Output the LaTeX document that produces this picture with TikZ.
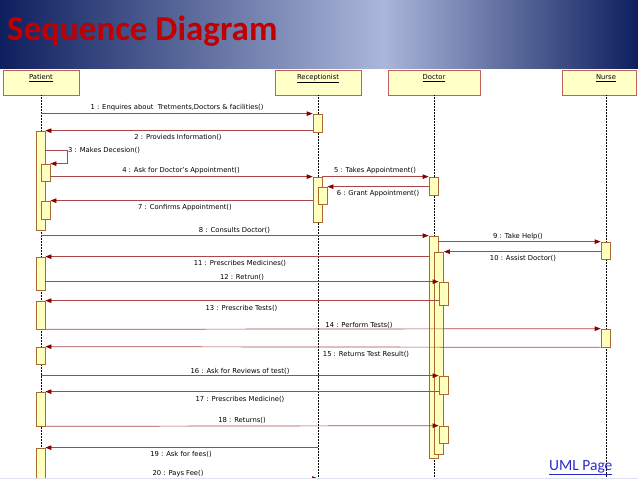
\documentclass[tikz,border=0pt]{standalone}
\usepackage{fontspec}
\setmainfont{DejaVu Sans}
\newfontfamily\titlefont{Carlito}
\usetikzlibrary{arrows.meta,calc,positioning}

\definecolor{navy}{HTML}{0E1F5E}
\definecolor{paleblue}{HTML}{AAB6DA}
\definecolor{titlered}{HTML}{C00000}
\definecolor{headfill}{HTML}{FFFFC8}
\definecolor{headline}{HTML}{C0605A}
\definecolor{actfill}{HTML}{FFFFBE}
\definecolor{actline}{HTML}{A86A30}
\definecolor{msgline}{HTML}{A84848}
\definecolor{tipred}{HTML}{8B0000}
\definecolor{bandgray}{HTML}{DCE2EE}
\definecolor{linkblue}{HTML}{2A2ACC}

\pgfdeclarehorizontalshading{bandshade}{100bp}{color(0bp)=(navy); color(25bp)=(navy);
  color(55bp)=(paleblue); color(75bp)=(navy); color(100bp)=(navy)}

\tikzset{
  headbox/.style={draw=headline, fill=headfill, line width=0.8pt, minimum height=25pt, inner sep=0pt},
  headlbl/.style={font=\fontsize{6.8}{8}\selectfont, inner sep=0pt, anchor=base},
  lifeline/.style={black, densely dotted, line width=0.5pt},
  actbox/.style={draw=actline, fill=actfill, line width=0.7pt, minimum width=9pt, inner sep=0pt},
  msg/.style={msgline, line width=0.7pt, -{Triangle[length=6pt,width=4.5pt,color=tipred]}},
  msglbl/.style={font=\fontsize{6.8}{8}\selectfont, inner sep=0pt}
}

\begin{document}
\begin{tikzpicture}[x=1pt,y=-1pt]
      \useasboundingbox (0,0) rectangle (638,479);
      \clip (0,0) rectangle (638,479);

      % title band
      \shade[shading=bandshade] (0,0) rectangle (638,68);
      \node[anchor=base west, inner sep=0pt, text=titlered] (title) at (7,40)
        {\titlefont\bfseries\fontsize{35}{40}\selectfont Sequence Diagram};

      % lifeline heads
      \node[headbox, minimum width=76pt] (patient) at (41,82.5) {};
      \node[headbox, minimum width=86pt] (receptionist) at (318,82.5) {};
      \node[headbox, minimum width=92pt] (doctor) at (434,82.5) {};
      \node[headbox, minimum width=74pt] (nurse) at (599.5,82.5) {};
      \node[headlbl] (patientlbl) at (41,79.5) {\underline{Patient}};
      \node[headlbl] (receptionistlbl) at (318,79.5) {\underline{Receptionist}};
      \node[headlbl] (doctorlbl) at (434,79.5) {\underline{Doctor}};
      \node[headlbl] (nurselbl) at (606,79.5) {\underline{Nurse}};

      \coordinate (bottom) at (0,479);
      \draw[lifeline] (patient.south) -- (patient.south |- bottom);
      \draw[lifeline] (receptionist.south) -- (receptionist.south |- bottom);
      \draw[lifeline] (doctor.south) -- (doctor.south |- bottom);
      \draw[lifeline] (nurselbl |- nurse.south) -- (nurselbl |- bottom);

      % activations
      \node[actbox, minimum height=99pt] (pa1) at (40.5,180.5) {};
      \node[actbox, minimum height=17pt] (pa2) at (45.5,172.5) {};
      \node[actbox, minimum height=18pt] (pa3) at (45.5,210) {};
      \node[actbox, minimum height=33pt] (pa4) at (40.5,273.5) {};
      \node[actbox, minimum height=28pt] (pa5) at (40.5,315) {};
      \node[actbox, minimum height=17pt] (pa6) at (40.5,355.5) {};
      \node[actbox, minimum height=34pt] (pa7) at (40.5,409) {};
      \node[actbox, minimum height=52pt] (pa8) at (40.5,474) {};

      \node[actbox, minimum height=18pt] (ra1) at (317.5,123) {};
      \node[actbox, minimum height=45pt] (ra2) at (317.5,199.5) {};
      \node[actbox, minimum height=17pt] (ra3) at (322.5,195.5) {};

      \node[actbox, minimum height=18pt] (da1) at (433.5,186) {};
      \node[actbox, minimum height=222pt] (da2) at (433.5,347) {};
      \node[actbox, minimum height=202pt] (da3) at (439,353) {};
      \node[actbox, minimum height=23pt] (da4) at (443.5,293.5) {};
      \node[actbox, minimum height=18pt] (da5) at (443.5,385) {};
      \node[actbox, minimum height=17pt] (da6) at (443.5,434.5) {};

      \node[actbox, minimum height=17pt] (na1) at (605.5,250.5) {};
      \node[actbox, minimum height=18pt] (na2) at (605.5,338) {};

      % messages
      \coordinate (m3turn) at (67,150);
      \draw[msg] (patient.south |- ra1.north) -- (ra1.north west);
      \draw[msg] (ra1.west |- pa1.north) -- (pa1.north east);
      \draw[msg] (pa1.east |- m3turn) -- (m3turn) |- (pa2.north east);
      \draw[msg] (pa2.east |- ra2.north) -- (ra2.north west);
      \draw[msg] (ra2.north east) -- (da1.north west);
      \draw[msg] (da1.west |- ra3.north) -- (ra3.north east);
      \draw[msg] (ra2.west |- pa3.north) -- (pa3.north east);
      \draw[msg] (patient.south |- da2.north) -- (da2.north west);
      \draw[msg] (da2.east |- na1.north) -- (na1.north west);
      \draw[msg] (na1.west |- da3.north) -- (da3.north east);
      \draw[msg] (da2.west |- pa4.north) -- (pa4.north east);
      \draw[msg] (pa4.east |- da4.north) -- (da4.north west);
      \draw[msg] (da4.west |- pa5.north) -- (pa5.north east);
      \draw[msg] (pa5.south east) -- (na2.north west);
      \draw[msg] (na2.south west) -- (pa6.north east);
      \draw[msg] (patient.south |- da5.north) -- (da5.north west);
      \draw[msg] (da5.west |- pa7.north) -- (pa7.north east);
      \draw[msg] (pa7.south east) -- (da6.north west);
      \draw[msg] (receptionist.south |- pa8.north) -- (pa8.north east);
      \coordinate (m20) at (0,478.5);
      \draw[msg] (pa8.east |- m20) -- (receptionist.south |- m20);

      % message texts
      \node[msglbl] (m1) at (177,108) {1 : Enquires about\ \ Tretments,Doctors \& facilities()};
      \node[msglbl] (m2) at (178,137) {2 : Provieds Information()};
      \node[msglbl, anchor=west] (m3) at (68,150) {3 : Makes Decesion()};
      \node[msglbl] (m4) at (181,171) {4 : Ask for Doctor's Appointment()};
      \node[msglbl] (m5) at (375,171) {5 : Takes Appointment()};
      \node[msglbl] (m6) at (378,194) {6 : Grant Appointment()};
      \node[msglbl] (m7) at (185,208) {7 : Confirms Appointment()};
      \node[msglbl] (m8) at (234.5,230) {8 : Consults Doctor()};
      \node[msglbl] (m9) at (518,237) {9 : Take Help()};
      \node[msglbl] (m10) at (523,258) {10 : Assist Doctor()};
      \node[msglbl] (m11) at (240,263) {11 : Prescribes Medicines()};
      \node[msglbl] (m12) at (242,277) {12 : Retrun()};
      \node[msglbl] (m13) at (241.5,308) {13 : Prescribe Tests()};
      \node[msglbl] (m14) at (359,325) {14 : Perform Tests()};
      \node[msglbl] (m15) at (366,354) {15 : Returns Test Result()};
      \node[msglbl] (m16) at (240,371) {16 : Ask for Reviews of test()};
      \node[msglbl] (m17) at (240,399) {17 : Prescribes Medicine()};
      \node[msglbl] (m18) at (242,420) {18 : Returns()};
      \node[msglbl] (m19) at (181,454) {19 : Ask for fees()};
      \node[msglbl] (m20lbl) at (178,474) {20 : Pays Fee()};

      % bottom band and link
      \fill[bandgray] (0,477.5) rectangle (638,479);
      \node[anchor=base west, inner sep=0pt, text=linkblue] (umllink) at (549,470)
        {\titlefont\fontsize{15.5}{18}\selectfont\underline{UML Page}};
    \end{tikzpicture}
\end{document}
